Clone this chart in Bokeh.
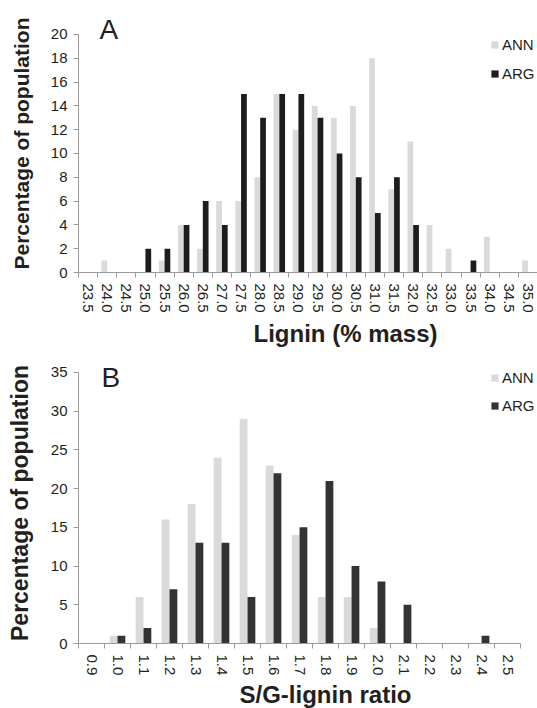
from bokeh.plotting import figure
from bokeh.models import ColumnDataSource, FixedTicker, Label, Legend, LegendItem, Range1d, Title
from bokeh.transform import dodge
from bokeh.layouts import column
from bokeh.embed import file_html
from bokeh.resources import INLINE

# ---------------- data ----------------
lignin_bins = ["23.5", "24.0", "24.5", "25.0", "25.5", "26.0", "26.5", "27.0",
               "27.5", "28.0", "28.5", "29.0", "29.5", "30.0", "30.5", "31.0",
               "31.5", "32.0", "32.5", "33.0", "33.5", "34.0", "34.5", "35.0"]
lignin_ann = [0, 1, 0, 0, 1, 4, 2, 6, 6, 8, 15, 12, 14, 13, 14, 18, 7, 11, 4, 2, 0, 3, 0, 1]
lignin_arg = [0, 0, 0, 2, 2, 4, 6, 4, 15, 13, 15, 15, 13, 10, 8, 5, 8, 4, 0, 0, 1, 0, 0, 0]

sg_bins = ["0.9", "1.0", "1.1", "1.2", "1.3", "1.4", "1.5", "1.6", "1.7",
           "1.8", "1.9", "2.0", "2.1", "2.2", "2.3", "2.4", "2.5"]
sg_ann = [0, 1, 6, 16, 18, 24, 29, 23, 14, 6, 6, 2, 0, 0, 0, 0, 0]
sg_arg = [0, 1, 2, 7, 13, 13, 6, 22, 15, 21, 10, 8, 5, 0, 0, 1, 0]

series_names = ["ANN", "ARG"]
lignin_yticks = list(range(0, 21, 2))
sg_yticks = list(range(0, 36, 5))

FONT = "Liberation Sans"
TXT = "#231f20"
AXIS = "#9a9a9a"
ANN_COLOR = "#d9dadb"


def panel(cats, ann, arg, yticks, letter, xtitle, arg_color,
          width, height, mb_left, mb_right, mb_top, mb_bottom,
          x_end, y_end, ylab_size, letter_xy, title_offset, title_standoff,
          legend_xy, legend_spacing):
    n = len(cats)
    idx = list(range(n))
    src = ColumnDataSource(dict(idx=idx, ann=ann, arg=arg, cat=cats))
    p = figure(width=width, height=height, output_backend="svg", toolbar_location=None,
               x_range=Range1d(-0.5, x_end), y_range=Range1d(0, y_end),
               min_border_left=mb_left, min_border_right=mb_right,
               min_border_top=mb_top, min_border_bottom=mb_bottom)
    p.outline_line_color = None
    p.xgrid.visible = False
    p.ygrid.visible = False

    r1 = p.vbar(x=dodge("idx", -0.15), top="ann", width=0.3, source=src,
                fill_color=ANN_COLOR, line_color=None)
    r2 = p.vbar(x=dodge("idx", 0.15), top="arg", width=0.3, source=src,
                fill_color=arg_color, line_color=None)

    # x axis: labels at category centres, tick marks at category boundaries
    xa = p.xaxis[0]
    xa.ticker = FixedTicker(ticks=idx, minor_ticks=[i - 0.5 for i in range(n + 1)])
    xa.bounds = (-0.5, n - 0.5)
    xa.major_label_overrides = {i: c for i, c in enumerate(cats)}
    xa.major_label_orientation = "vertical"
    xa.major_tick_out = 0
    xa.major_tick_in = 0
    xa.minor_tick_out = 5
    xa.minor_tick_in = 0
    xa.major_label_standoff = 6
    xa.axis_line_color = AXIS
    xa.minor_tick_line_color = AXIS
    xa.major_label_text_font = FONT
    xa.major_label_text_font_size = "15px"
    xa.major_label_text_color = TXT

    ya = p.yaxis[0]
    ya.ticker = FixedTicker(ticks=yticks)
    ya.bounds = (0, yticks[-1])
    ya.minor_tick_line_color = None
    ya.major_tick_out = 5
    ya.major_tick_in = 0
    ya.major_label_standoff = 6
    ya.axis_line_color = AXIS
    ya.major_tick_line_color = AXIS
    ya.major_label_text_font = FONT
    ya.major_label_text_font_size = "15px"
    ya.major_label_text_color = TXT
    ya.axis_label = "Percentage of population"
    ya.axis_label_text_font = FONT
    ya.axis_label_text_font_size = ylab_size
    ya.axis_label_text_font_style = "bold"
    ya.axis_label_text_color = TXT
    ya.axis_label_standoff = 15

    p.add_layout(Label(x=letter_xy[0], y=letter_xy[1],
                       text=letter, text_font=FONT, text_font_size="28px",
                       text_color=TXT, text_baseline="alphabetic"))
    p.add_layout(Title(text=xtitle, align="left", offset=title_offset,
                       standoff=title_standoff, text_font=FONT, text_font_size="24px",
                       text_line_height=1.0,
                       text_font_style="bold", text_color=TXT), "below")

    leg = Legend(items=[LegendItem(label=series_names[0], renderers=[r1]),
                        LegendItem(label=series_names[1], renderers=[r2])],
                 location=legend_xy, orientation="vertical",
                 glyph_width=9, glyph_height=9, label_standoff=3,
                 label_height=20, spacing=legend_spacing, padding=0, margin=0,
                 border_line_color=None, background_fill_alpha=0,
                 label_text_font=FONT, label_text_font_size="15px",
                 label_text_color=TXT)
    p.add_layout(leg)
    return p


pA = panel(lignin_bins, lignin_ann, lignin_arg, lignin_yticks, "A", "Lignin (% mass)", "#1f1c1d",
           width=537, height=350, mb_left=78, mb_right=0, mb_top=14, mb_bottom=78,
           x_end=23.5, y_end=21.68, ylab_size="21px", letter_xy=(0.6, 20.42),
           title_offset=175, title_standoff=4, legend_xy=(412, 189), legend_spacing=9)
pB = panel(sg_bins, sg_ann, sg_arg, sg_yticks, "B", "S/G-lignin ratio", "#333333",
           width=537, height=358, mb_left=77, mb_right=0, mb_top=12, mb_bottom=65,
           x_end=17.15, y_end=36.29, ylab_size="23px", letter_xy=(0.38, 34.35),
           title_offset=161, title_standoff=0, legend_xy=(412, 228), legend_spacing=8)

layout = column(pA, pB, spacing=0)
open("out.html", "w").write(file_html(layout, INLINE))
